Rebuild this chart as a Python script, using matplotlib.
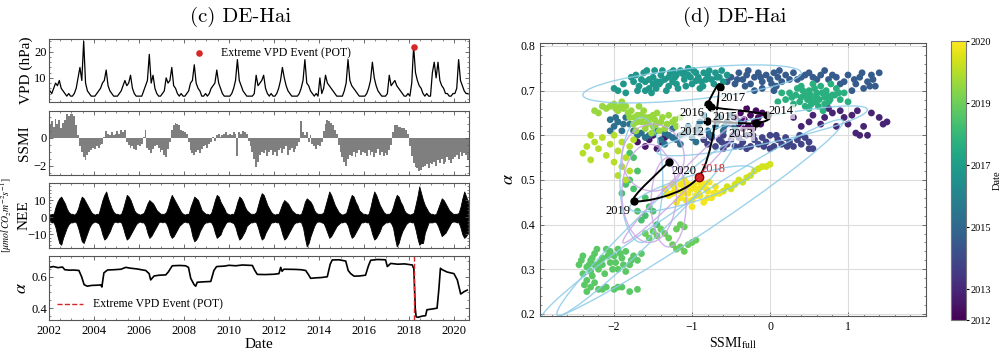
import numpy as np
import matplotlib.pyplot as plt
from matplotlib.patches import Ellipse, PathPatch
from matplotlib.path import Path
from matplotlib.ticker import MultipleLocator
from matplotlib.colors import Normalize

plt.rcParams['font.family'] = ['Liberation Serif', 'DejaVu Serif']
plt.rcParams['mathtext.fontset'] = 'stix'
plt.rcParams['xtick.direction'] = 'in'
plt.rcParams['ytick.direction'] = 'in'
plt.rcParams['xtick.top'] = True
plt.rcParams['ytick.right'] = True
plt.rcParams['axes.edgecolor'] = '#555555'
plt.rcParams['axes.linewidth'] = 0.8
plt.rcParams['xtick.labelsize'] = 9
plt.rcParams['ytick.labelsize'] = 9

# ---------------- data: left panels (monthly, 2002 .. Aug 2020) ----------------
years = list(range(2002, 2021))

vpd = [
    [5, 4, 6, 8, 7, 9, 6, 5, 4, 3, 4, 3],
    [3, 4, 6, 10, 14, 9, 24, 8, 5, 4, 3, 3],
    [3, 4, 5, 6, 8, 9, 13, 7, 5, 4, 3, 3],
    [3, 4, 5, 7, 9, 7, 8, 11, 6, 4, 3, 3],
    [3, 3, 5, 7, 9, 19, 8, 11, 6, 4, 3, 3],
    [4, 5, 10, 8, 9, 14, 7, 6, 4, 3, 4, 3],
    [3, 4, 5, 8, 9, 15, 8, 6, 5, 3, 3, 4],
    [3, 4, 6, 7, 8, 13, 8, 6, 4, 3, 3, 3],
    [3, 4, 6, 9, 17, 9, 7, 5, 4, 3, 3, 3],
    [3, 4, 11, 7, 8, 9, 11, 6, 4, 3, 4, 3],
    [3, 4, 6, 9, 14, 10, 7, 5, 4, 3, 3, 3],
    [3, 4, 6, 9, 17, 8, 7, 5, 4, 3, 4, 3],
    [10, 4, 6, 11, 8, 7, 6, 5, 4, 3, 3, 3],
    [3, 5, 8, 17, 9, 7, 6, 5, 4, 3, 3, 3],
    [3, 4, 6, 9, 16, 10, 7, 5, 4, 3, 3, 3],
    [4, 11, 7, 8, 9, 7, 6, 5, 4, 3, 3, 4],
    [3, 8, 22, 12, 9, 7, 6, 4, 3, 4, 3, 3],
    [12, 16, 10, 16, 9, 7, 6, 4, 4, 3, 3, 4],
    [4, 6, 17, 9, 7, 5, 4, 4],
]

ssmi = [
    [0.9, 1.2, 0.8, 1.4, 1.0, 1.3, 0.7, 1.1, 1.3, 1.7, 1.6, 1.7],
    [1.7, 1.6, 0.9, 0.2, -0.6, -1.0, -1.4, -1.6, -1.2, -1.0, -0.9, -0.7],
    [-0.8, -0.6, -0.7, -0.5, -0.4, 0.1, 0.5, 0.3, 0.2, 0.4, 0.2, 0.3],
    [0.5, 0.3, 0.6, 0.4, 0.6, -0.3, -0.5, -0.7, -0.6, -0.8, -0.9, -0.5],
    [-0.6, -0.4, 0.1, 0.6, -0.7, -0.9, -1.1, -0.8, -0.6, -0.5, -0.7, -1.0],
    [-0.9, -1.2, -1.4, -0.8, -0.3, 0.6, 0.9, 1.1, 1.0, 0.9, 0.6, 0.5],
    [0.4, 0.3, -0.3, -0.9, -1.1, -1.2, -1.0, -0.9, -1.1, -0.8, -0.6, -0.5],
    [-0.7, -0.4, -0.3, 0.1, -0.2, 0.2, 0.3, 0.1, 0.2, 0.3, 0.4, 0.2],
    [0.3, 0.2, 0.4, 0.3, -1.3, 0.4, 0.3, 0.5, 0.4, 0.3, -0.2, -0.6],
    [-1.0, -1.5, -2.1, -1.7, -1.2, -1.0, -1.1, -0.9, -1.3, -1.0, -0.9, -1.2],
    [-1.0, -1.3, -0.9, -0.7, -1.1, -0.8, -0.6, -1.2, -0.9, -0.7, -1.0, -0.8],
    [-0.6, -0.3, 1.2, 0.4, 0.2, 0.4, -0.3, 0.2, -0.4, -0.6, -0.8, -0.5],
    [-0.6, -0.3, 0.5, 1.0, 1.3, 1.2, 1.1, 0.9, 0.6, 0.3, -0.5, -1.0],
    [-1.4, -1.7, -2.0, -1.5, -1.2, -1.3, -1.0, -1.4, -1.1, -0.9, -1.2, -1.0],
    [-1.1, -1.3, -0.9, -1.2, -1.0, -1.4, -1.1, -0.8, -1.2, -1.0, -1.3, -1.1],
    [-1.2, -0.9, -0.5, 0.4, 0.9, 0.9, 0.8, 0.8, 0.7, 0.7, 0.6, 0.3],
    [-0.6, -1.3, -1.8, -2.1, -2.2, -2.4, -2.3, -2.1, -2.0, -1.9, -2.2, -1.8],
    [-1.9, -1.7, -2.0, -1.6, -1.8, -1.5, -1.9, -1.7, -1.4, -1.6, -1.8, -1.5],
    [-1.4, -1.2, -1.5, -1.0, -1.3, -1.1, -1.2, -1.6],
]

nee_hi = [
    [1.5, 2, 2, 6, 9, 11, 12, 10, 8, 5, 3, 2],
    [2, 1.5, 2.5, 5, 9, 12, 11, 9, 7, 5, 3, 2],
    [1.5, 2, 2, 6, 10, 13, 15, 11, 8, 5, 3, 2],
    [2, 1.5, 2, 5, 9, 13, 12, 10, 7, 4, 2.5, 2],
    [1.5, 2, 2.5, 5, 8, 10, 9, 8, 6, 4, 3, 2],
    [2, 2, 3, 6, 10, 13, 11, 9, 7, 5, 3, 2],
    [1.5, 2, 2, 6, 9, 12, 11, 10, 7, 4, 3, 2],
    [2, 1.5, 2.5, 6, 10, 13, 12, 9, 7, 5, 2.5, 2],
    [1.5, 2, 2, 5, 9, 12, 11, 9, 6, 4, 3, 2],
    [2, 2, 3, 7, 11, 14, 13, 10, 7, 5, 3, 2],
    [1.5, 2, 2, 5, 8, 10, 9, 8, 6, 4, 3, 2],
    [2, 1.5, 2, 5, 9, 11, 10, 9, 7, 4, 2.5, 2],
    [2, 2, 3, 7, 11, 15, 13, 10, 7, 5, 3, 2],
    [1.5, 2, 2.5, 6, 10, 13, 12, 9, 7, 4, 3, 2],
    [2, 1.5, 2, 6, 11, 15, 13, 10, 7, 5, 3, 2],
    [2, 2, 3, 6, 10, 13, 12, 9, 7, 4, 2.5, 2],
    [1.5, 2, 2.5, 7, 12, 18, 14, 10, 7, 5, 3, 2],
    [2, 1.5, 2, 5, 8, 11, 10, 8, 6, 4, 3, 2],
    [2, 2, 2.5, 6, 11, 15, 12, 9],
]

nee_lo = [
    [-2.5, -3, -3, -6, -11, -15, -16, -12, -9, -6, -4, -3],
    [-3, -2.5, -3, -6, -10, -14, -15, -12, -9, -6, -4, -3],
    [-2.5, -3, -3.5, -6, -10, -13, -12, -10, -8, -5, -3, -2.5],
    [-3, -2.5, -3, -6, -10, -13, -12, -10, -8, -6, -4, -3],
    [-2.5, -3, -3, -5, -9, -12, -11, -9, -7, -5, -3, -2.5],
    [-3, -2.5, -3.5, -6, -10, -12, -11, -9, -7, -5, -4, -3],
    [-2.5, -3, -3, -6, -11, -14, -13, -11, -8, -6, -4, -3],
    [-3, -2.5, -3, -5, -9, -12, -11, -10, -7, -5, -3, -2.5],
    [-2.5, -3, -3.5, -6, -10, -13, -12, -10, -8, -5, -4, -3],
    [-3, -2.5, -3, -6, -10, -13, -12, -9, -7, -5, -3, -3],
    [-2.5, -3, -3, -6, -10, -13, -12, -10, -8, -6, -4, -3],
    [-3, -2.5, -3, -6, -12, -17, -15, -11, -8, -5, -3, -2.5],
    [-2.5, -3, -3.5, -6, -9, -12, -11, -9, -7, -5, -4, -3],
    [-3, -2.5, -3, -5, -9, -12, -11, -9, -7, -5, -3, -3],
    [-2.5, -3, -3, -6, -10, -13, -12, -10, -8, -5, -4, -3],
    [-3, -2.5, -3.5, -6, -12, -17, -15, -11, -8, -6, -4, -3],
    [-2.5, -3, -3, -7, -12, -16, -15, -15, -9, -6, -3, -3],
    [-3, -2.5, -3, -5, -8, -11, -10, -9, -7, -5, -3, -2.5],
    [-2.5, -3, -3, -6, -10, -12, -11, -9],
]

alpha_t = [2002.0, 2002.2, 2002.4, 2002.6, 2002.7, 2002.9, 2003.1, 2003.33, 2003.45, 2003.56,
           2003.7, 2003.9, 2004.1, 2004.3, 2004.35, 2004.44, 2004.6, 2004.9, 2005.2, 2005.41,
           2005.6, 2005.9, 2006.1, 2006.3, 2006.45, 2006.52, 2006.67, 2006.9, 2007.19, 2007.3,
           2007.48, 2007.8, 2008.07, 2008.2, 2008.3, 2008.45, 2008.52, 2008.59, 2008.9, 2009.19,
           2009.33, 2009.45, 2009.8, 2010.0, 2010.3, 2010.6, 2011.04, 2011.15, 2011.26, 2011.6,
           2012.0, 2012.22, 2012.3, 2012.36, 2012.44, 2012.9, 2013.2, 2013.41, 2013.55, 2013.63,
           2013.85, 2014.1, 2014.37, 2014.5, 2014.59, 2014.9, 2015.19, 2015.3, 2015.41, 2015.56,
           2015.8, 2016.07, 2016.2, 2016.3, 2016.6, 2016.96, 2017.04, 2017.19, 2017.5, 2017.8,
           2018.15, 2018.22, 2018.28, 2018.32, 2018.41, 2018.6, 2018.74, 2018.8, 2019.04, 2019.25,
           2019.33, 2019.4, 2019.48, 2019.7, 2020.0, 2020.15, 2020.3, 2020.45, 2020.59]
alpha_v = [0.66, 0.665, 0.658, 0.662, 0.645, 0.642, 0.643, 0.64, 0.6, 0.55,
           0.54, 0.545, 0.546, 0.548, 0.535, 0.625, 0.643, 0.645, 0.648, 0.66,
           0.655, 0.65, 0.645, 0.64, 0.62, 0.58, 0.605, 0.61, 0.612, 0.63,
           0.67, 0.672, 0.67, 0.66, 0.59, 0.55, 0.54, 0.565, 0.568, 0.57,
           0.64, 0.665, 0.668, 0.673, 0.67, 0.675, 0.672, 0.64, 0.615, 0.614,
           0.616, 0.62, 0.66, 0.635, 0.648, 0.647, 0.645, 0.64, 0.61, 0.59,
           0.593, 0.595, 0.6, 0.68, 0.707, 0.708, 0.7, 0.64, 0.62, 0.604,
           0.605, 0.61, 0.67, 0.705, 0.71, 0.708, 0.665, 0.685, 0.68, 0.682,
           0.675, 0.65, 0.4, 0.345, 0.342, 0.35, 0.352, 0.39, 0.395, 0.4,
           0.52, 0.654, 0.645, 0.63, 0.62, 0.58, 0.49, 0.505, 0.515]

event_year = 2018.21
event_vpd = 22

# ---------------- data: right panel ----------------
# scatter clusters: x list, y list, date
c_teal_x = [-2.0, -1.95, -1.85, -1.75, -1.72, -1.68, -1.62, -1.6, -1.55, -1.5, -1.48, -1.42, -1.4, -1.35, -1.3,
            -1.28, -1.22, -1.2, -1.15, -1.1, -1.05, -1.0, -0.98, -0.92, -0.88, -0.85, -0.8, -0.75, -0.7, -0.65,
            -0.6, -0.55, -1.55, -1.45, -1.25, -1.12, -0.95, -0.78, -1.65, -1.38, -1.05, -1.18, -0.9, -1.7, -1.52,
            -1.88, -1.78, -1.58, -1.46, -1.33, -1.24, -1.08, -1.02, -0.86, -0.72, -0.68, -0.62, -1.6, -1.4,
            -1.2, -0.95, -0.82, -1.3, -1.1, -1.5]
c_teal_y = [0.705, 0.70, 0.695, 0.72, 0.735, 0.71, 0.74, 0.72, 0.705, 0.73, 0.745, 0.715, 0.735, 0.725, 0.71,
            0.74, 0.73, 0.715, 0.745, 0.725, 0.735, 0.715, 0.745, 0.73, 0.72, 0.74, 0.735, 0.725, 0.74, 0.73,
            0.72, 0.735, 0.725, 0.72, 0.72, 0.738, 0.722, 0.745, 0.725, 0.745, 0.75, 0.705, 0.705, 0.70, 0.695,
            0.715, 0.73, 0.745, 0.705, 0.70, 0.745, 0.71, 0.73, 0.71, 0.715, 0.73, 0.745, 0.70, 0.72,
            0.735, 0.74, 0.725, 0.73, 0.74, 0.715]
c_blue_x = [-0.5, -0.45, -0.4, -0.35, -0.3, -0.25, -0.2, -0.15, -0.1, -0.05, 0.0, 0.05, 0.1, 0.15, 0.2, 0.3,
            0.35, 0.45, 0.55, 0.65, 0.75, 0.85, 0.95, 1.0, 1.1, 1.15, 1.2, 1.25, 1.3, 1.35, 1.4, 1.05, 0.9,
            -0.2, -0.1, 0.05, -0.42, -0.28, -0.12, 0.02, 0.12, 0.25, 0.4, 0.5, 0.6, 0.7, 0.8, 1.08, 1.18,
            1.28, 1.32, -0.55, -0.32, 0.08]
c_blue_y = [0.73, 0.715, 0.74, 0.725, 0.735, 0.715, 0.73, 0.74, 0.72, 0.735, 0.725, 0.74, 0.73, 0.72, 0.735, 0.74,
            0.725, 0.735, 0.73, 0.735, 0.725, 0.73, 0.72, 0.735, 0.715, 0.73, 0.705, 0.72, 0.735, 0.71, 0.74, 0.70,
            0.715, 0.70, 0.705, 0.70, 0.725, 0.745, 0.73, 0.715, 0.745, 0.725, 0.73, 0.74, 0.725, 0.745, 0.735,
            0.725, 0.74, 0.71, 0.725, 0.72, 0.71, 0.71]
c_green_x = [0.2, 0.25, 0.3, 0.35, 0.4, 0.45, 0.5, 0.55, 0.6, 0.62, 0.65, 0.7, 0.72, 0.75, 0.8, 0.85, 0.9,
             0.95, 1.0, 0.55, 0.45, 0.68, 0.58, 0.4, 0.15, 0.1, 0.78, 0.5, 0.28, 0.33, 0.38, 0.48, 0.52,
             0.57, 0.63, 0.67, 0.73, 0.77, 0.83, 0.88, 0.6, 0.7, 0.53, 0.42]
c_green_y = [0.68, 0.695, 0.67, 0.705, 0.685, 0.665, 0.70, 0.68, 0.695, 0.665, 0.71, 0.685, 0.70, 0.675, 0.69,
             0.705, 0.68, 0.695, 0.675, 0.715, 0.69, 0.655, 0.675, 0.71, 0.695, 0.675, 0.715, 0.66, 0.685,
             0.69, 0.675, 0.68, 0.69, 0.705, 0.68, 0.695, 0.69, 0.68, 0.69, 0.695, 0.685, 0.67, 0.67, 0.70]
c_purple_r_x = [0.3, 0.4, 0.5, 0.55, 0.65, 0.7, 0.8, 0.85, 0.9, 0.95, 1.0, 1.05, 1.1, 1.15, 1.2, 1.25, 1.3,
                1.4, 1.5, 1.45, 0.75, 1.12]
c_purple_r_y = [0.64, 0.62, 0.63, 0.645, 0.625, 0.64, 0.65, 0.62, 0.655, 0.64, 0.625, 0.645, 0.605, 0.60, 0.62,
                0.60, 0.65, 0.64, 0.63, 0.625, 0.66, 0.655]
c_dblue_x = [-0.85, -0.8, -0.75, -0.7, -0.65, -0.6, -0.55, -0.5, -0.45, -0.4, -0.35, -0.3, -0.25, -0.2, -0.15,
             -0.1, -0.05, 0.0, 0.05, 0.1, 0.15, 0.2, 0.25, 0.3, 0.35, 0.4, 0.45, 0.5, 0.55, -0.6, -0.3, 0.0,
             -0.9, -0.45, -0.78, -0.62, -0.48, -0.38, -0.22, -0.08, 0.08, 0.22, 0.38, 0.5]
c_dblue_y = [0.59, 0.58, 0.595, 0.575, 0.59, 0.60, 0.58, 0.59, 0.575, 0.595, 0.585, 0.60, 0.575, 0.59, 0.58,
             0.595, 0.585, 0.60, 0.575, 0.59, 0.58, 0.595, 0.585, 0.575, 0.59, 0.58, 0.595, 0.585, 0.57, 0.57,
             0.57, 0.57, 0.605, 0.605, 0.60, 0.585, 0.60, 0.575, 0.60, 0.575, 0.60, 0.575, 0.60, 0.57]
c_purple_x = [-0.45, -0.4, -0.38, -0.33, -0.3, -0.28, -0.25, -0.2, -0.18, -0.15, -0.12, -0.1, -0.35, -0.22]
c_purple_y = [0.64, 0.625, 0.65, 0.635, 0.66, 0.62, 0.645, 0.63, 0.655, 0.64, 0.625, 0.65, 0.615, 0.615]
c_steel_x = [-2.05, -2.0, -1.95, -1.9, -1.85, -1.8, -1.7, -1.6, -1.5, -1.4, -1.3, -1.2, -1.1, -1.0, -0.95,
             -0.9, -0.85, -0.7, -0.65, -0.6, -0.55, -0.5, -0.45, -1.25, -1.05, -0.75, -1.35, -1.15, -0.95, -2.05,
             -1.98, -1.88, -1.75, -1.65, -1.55, -1.45, -1.35, -1.25, -1.15, -1.05, -0.92, -0.8, -0.68, -0.58,
             -0.5, -0.4]
c_steel_y = [0.635, 0.62, 0.63, 0.61, 0.64, 0.625, 0.60, 0.595, 0.605, 0.59, 0.60, 0.59, 0.605, 0.595, 0.61,
             0.63, 0.645, 0.62, 0.64, 0.61, 0.63, 0.645, 0.615, 0.615, 0.62, 0.60, 0.58, 0.58, 0.585, 0.61,
             0.64, 0.625, 0.61, 0.605, 0.60, 0.61, 0.605, 0.595, 0.60, 0.61, 0.62, 0.61, 0.63, 0.62,
             0.625, 0.63]
c_lime_x = [-2.1, -2.0, -1.95, -1.9, -1.85, -1.8, -1.75, -1.7, -1.65, -1.6, -1.55, -1.5, -1.45, -1.4, -1.35,
            -1.3, -1.25, -1.2, -1.15, -1.72, -1.62, -1.52, -1.42, -1.68, -1.58, -1.48, -1.78, -2.25, -2.2, -2.15,
            -2.05, -1.98, -1.92, -1.82, -1.74, -1.66, -1.56, -1.46, -1.38, -1.32, -1.22, -1.6, -1.5, -1.7, -1.88]
c_lime_y = [0.66, 0.67, 0.655, 0.675, 0.665, 0.64, 0.625, 0.645, 0.63, 0.615, 0.64, 0.62, 0.65, 0.63, 0.615,
            0.645, 0.63, 0.62, 0.64, 0.61, 0.655, 0.605, 0.61, 0.665, 0.625, 0.635, 0.655, 0.655, 0.65, 0.665,
            0.665, 0.66, 0.665, 0.65, 0.64, 0.645, 0.63, 0.625, 0.64, 0.625, 0.635, 0.64, 0.645, 0.63, 0.66]
c_ygl_x = [-2.4, -2.35, -2.3, -2.25, -2.2, -2.15, -2.1, -2.05, -2.0, -1.95, -1.9, -1.85, -1.8, -2.0, -1.9,
           -1.95, -1.85, -1.8, -2.3, -1.75]
c_ygl_y = [0.56, 0.575, 0.545, 0.585, 0.57, 0.595, 0.555, 0.58, 0.60, 0.565, 0.585, 0.55, 0.575, 0.54, 0.53,
           0.51, 0.50, 0.52, 0.60, 0.59]
c_dpur_x = [-1.7, -1.6, -1.55, -1.45, -1.4, -1.35, -1.5]
c_dpur_y = [0.585, 0.575, 0.59, 0.57, 0.585, 0.595, 0.60]
c_yellow_x = [-1.35, -1.3, -1.25, -1.2, -1.15, -1.1, -1.05, -1.0, -0.95, -0.9, -0.85, -0.8, -0.75, -0.7,
              -0.65, -1.2, -1.0, -0.85, -1.1, -0.9, -1.25, -0.95, -0.78, -1.05, -1.32, -1.22, -1.12, -1.02,
              -0.92, -0.82, -0.72, -1.15, -0.98, -0.88, -1.08, -0.8]
c_yellow_y = [0.48, 0.465, 0.49, 0.475, 0.46, 0.485, 0.47, 0.455, 0.48, 0.465, 0.49, 0.475, 0.46, 0.485,
              0.47, 0.45, 0.44, 0.45, 0.50, 0.495, 0.47, 0.465, 0.495, 0.49, 0.47, 0.48, 0.47, 0.48,
              0.475, 0.48, 0.47, 0.49, 0.49, 0.485, 0.455, 0.46]
c_yg_x = [-0.7, -0.6, -0.5, -0.45, -0.4, -0.3, -0.25, -0.2, -0.15, -0.1, -0.35, -0.55, -0.05, 0.0]
c_yg_y = [0.47, 0.475, 0.48, 0.49, 0.50, 0.505, 0.51, 0.52, 0.525, 0.53, 0.495, 0.485, 0.53, 0.535]
c_bot_x = [-2.45, -2.4, -2.35, -2.3, -2.25, -2.2, -2.15, -2.1, -2.05, -2.0, -1.95, -1.9, -1.85, -1.8, -1.75,
           -1.7, -1.65, -2.4, -2.35, -2.3, -2.25, -2.2, -2.1, -2.0, -1.9, -1.8, -1.7, -2.3, -2.12, -2.38,
           -1.85, -2.05, -2.25, -1.95, -2.42, -2.32, -2.28, -2.18, -2.08, -1.98, -1.88, -1.78, -2.22, -2.15,
           -2.02, -1.92, -2.35, -2.15, -1.95, -2.28]
c_bot_y = [0.31, 0.33, 0.305, 0.32, 0.335, 0.30, 0.325, 0.345, 0.315, 0.33, 0.30, 0.325, 0.34, 0.31, 0.33,
           0.32, 0.335, 0.29, 0.275, 0.26, 0.27, 0.255, 0.26, 0.255, 0.26, 0.25, 0.255, 0.295, 0.29, 0.265,
           0.295, 0.34, 0.31, 0.345, 0.32, 0.31, 0.325, 0.315, 0.33, 0.315, 0.31, 0.32, 0.345, 0.31,
           0.30, 0.335, 0.25, 0.255, 0.26, 0.285]
c_mid_x = [-1.6, -1.55, -1.5, -1.45, -1.4, -1.35, -1.3, -1.25, -1.2, -1.15, -1.1, -1.05, -1.0, -0.95, -1.2,
           -1.15, -1.1]
c_mid_y = [0.38, 0.37, 0.385, 0.375, 0.39, 0.38, 0.37, 0.355, 0.345, 0.35, 0.34, 0.355, 0.36, 0.365, 0.39,
           0.40, 0.395]
c_up_x = [-1.9, -1.85, -1.8, -1.75, -1.7, -1.65, -1.6, -1.55, -1.5, -1.6, -1.45, -1.7, -1.75, -1.8]
c_up_y = [0.47, 0.49, 0.50, 0.48, 0.43, 0.41, 0.42, 0.44, 0.43, 0.46, 0.40, 0.52, 0.55, 0.56]

clusters = [
    (c_dpur_x, c_dpur_y, 2012.5),
    (c_purple_x, c_purple_y, 2012.3),
    (c_purple_r_x, c_purple_r_y, 2012.9),
    (c_dblue_x, c_dblue_y, 2013.8),
    (c_blue_x, c_blue_y, 2014.6),
    (c_steel_x, c_steel_y, 2015.4),
    (c_teal_x, c_teal_y, 2016.8),
    (c_green_x, c_green_y, 2017.7),
    (c_up_x, c_up_y, 2018.4),
    (c_bot_x, c_bot_y, 2018.7),
    (c_mid_x, c_mid_y, 2018.95),
    (c_lime_x, c_lime_y, 2019.6),
    (c_ygl_x, c_ygl_y, 2020.0),
    (c_yg_x, c_yg_y, 2020.4),
    (c_yellow_x, c_yellow_y, 2020.85),
]

# yearly mean trajectory
traj_year = [2012, 2013, 2014, 2015, 2016, 2017, 2018, 2019, 2020]
traj_x = [-0.806, -0.18, -0.034, -0.755, -0.80, -0.647, -0.913, -1.75, -1.295]
traj_y = [0.632, 0.627, 0.646, 0.663, 0.670, 0.7075, 0.507, 0.453, 0.541]
lab_x = [-1.0, -0.377, 0.138, -0.583, -1.0, -0.476, -0.73, -1.95, -1.11]
lab_y = [0.608, 0.603, 0.654, 0.640, 0.649, 0.683, 0.525, 0.43, 0.519]

# ellipse outlines: center x, center y, width, height, angle, colour
ell_x = [-1.0, -1.6, -1.0, -0.1, -1.65, -1.0, -1.55, -1.3, -1.1, -1.5]
ell_y = [0.41, 0.39, 0.715, 0.61, 0.50, 0.48, 0.47, 0.45, 0.50, 0.55]
ell_w = [3.9, 2.3, 2.8, 2.7, 0.55, 1.6, 0.7, 0.45, 1.6, 0.8]
ell_h = [0.09, 0.08, 0.07, 0.06, 0.28, 0.06, 0.22, 0.2, 0.05, 0.15]
ell_a = [6.5, 9.5, 1.0, 2.0, 0.0, 3.0, 0.0, 0.0, 10.0, 0.0]
ell_c = ['#8ccbe8', '#8ccbe8', '#8ccbe8', '#8ccbe8', '#8ccbe8', '#8ccbe8',
         '#c9a6e6', '#c9a6e6', '#c9a6e6', '#c9a6e6']

# ---------------- figure ----------------
fig = plt.figure(figsize=(10, 3.51), dpi=100)

ax1 = fig.add_axes([0.049, 0.709, 0.42, 0.18])
ax2 = fig.add_axes([0.049, 0.501, 0.42, 0.183])
ax3 = fig.add_axes([0.049, 0.293, 0.42, 0.186])
ax4 = fig.add_axes([0.049, 0.088, 0.42, 0.183])

def month_times(i, n):
    return [years[i] + (m + 0.5) / 12 for m in range(n)]

t_all, vpd_all, ssmi_all, hi_all, lo_all = [], [], [], [], []
for i in range(len(years)):
    t_all += month_times(i, len(vpd[i]))
    vpd_all += vpd[i]
    ssmi_all += ssmi[i]
    hi_all += nee_hi[i]
    lo_all += nee_lo[i]

ax1.plot(t_all, vpd_all, color='black', lw=0.9)
ax1.scatter([event_year], [event_vpd], color='#d62728', s=14, zorder=3,
            label='Extreme VPD Event (POT)')
ax1.set_ylim(0.7, 24.9)
ax1.set_yticks([10, 20])
ax1.set_ylabel('VPD (hPa)', fontsize=11)
ax1.legend(loc='center left', bbox_to_anchor=(0.31, 0.77), frameon=False,
           fontsize=8.5, handletextpad=0.8, borderpad=0.2)

ax2.bar(t_all, ssmi_all, width=1 / 12, color='#7f7f7f', edgecolor='none')
ax2.set_ylim(-2.68, 1.95)
ax2.set_yticks([-2, 0])
ax2.set_ylabel('SSMI', fontsize=11)

ax3.fill_between(t_all, lo_all, hi_all, color='black', lw=0.6)
ax3.set_ylim(-18, 20)
ax3.set_yticks([-10, 0, 10])
ax3.set_ylabel('NEE', fontsize=11)
ax3.text(-0.102, 0.5, r'$[\mu mol\,CO_2 m^{-2} s^{-1}]$', transform=ax3.transAxes,
         rotation=90, ha='center', va='center', fontsize=7)

ax4.plot(alpha_t, alpha_v, color='black', lw=1.2)
ax4.axvline(event_year, color='#d62728', ls='--', lw=1.0, label='Extreme VPD Event (POT)')
ax4.set_ylim(0.324, 0.733)
ax4.set_yticks([0.4, 0.6])
ax4.set_ylabel(r'$\alpha$', fontsize=13)
ax4.set_xlabel('Date', fontsize=11, labelpad=1)
ax4.legend(loc='center left', bbox_to_anchor=(0.0, 0.24), frameon=False,
           fontsize=8.5, handlelength=2.2, borderpad=0.2)

for ax in (ax1, ax2, ax3, ax4):
    ax.set_xlim(2002, 2020.67)
    ax.xaxis.set_major_locator(MultipleLocator(2))
    ax.minorticks_on()
    ax.xaxis.set_minor_locator(MultipleLocator(0.5))
    ax.tick_params(which='major', length=3, width=0.6, color='#555555')
    ax.tick_params(which='minor', length=1.5, width=0.5, color='#555555')
    ax.tick_params(axis='y', pad=1.5)
for ax in (ax1, ax2, ax3):
    ax.tick_params(labelbottom=False)
ax1.yaxis.set_label_coords(-0.038, 0.5)
ax2.yaxis.set_label_coords(-0.042, 0.5)
ax3.yaxis.set_label_coords(-0.044, 0.5)
ax4.yaxis.set_label_coords(-0.045, 0.5)

fig.text(0.241, 0.952, '(c) DE-Hai', ha='center', va='center', fontsize=15, family='cmr10')
fig.text(0.735, 0.952, '(d) DE-Hai', ha='center', va='center', fontsize=15, family='cmr10')

# right panel
axs = fig.add_axes([0.540, 0.1006, 0.386, 0.776])
axs.grid(True, color='#dddddd', lw=0.8, zorder=0)
axs.set_axisbelow(True)
norm = Normalize(2012, 2021)
sc = None
for cx, cy, d in clusters:
    sc = axs.scatter(cx, cy, c=[d] * len(cx), cmap='viridis', norm=norm, s=24,
                     linewidths=0, zorder=2)

for x, y, w, h, a, c in zip(ell_x, ell_y, ell_w, ell_h, ell_a, ell_c):
    axs.add_patch(Ellipse((x, y), w, h, angle=a, fill=False, edgecolor=c, lw=1.0,
                          alpha=0.85, zorder=3))

# smooth path through the yearly means
pts = list(zip(traj_x, traj_y))
verts = [pts[0]]
codes = [Path.MOVETO]
for i in range(len(pts) - 1):
    p0 = pts[max(i - 1, 0)]
    p1 = pts[i]
    p2 = pts[i + 1]
    p3 = pts[min(i + 2, len(pts) - 1)]
    c1 = (p1[0] + (p2[0] - p0[0]) / 6, p1[1] + (p2[1] - p0[1]) / 6)
    c2 = (p2[0] - (p3[0] - p1[0]) / 6, p2[1] - (p3[1] - p1[1]) / 6)
    verts += [c1, c2, p2]
    codes += [Path.CURVE4, Path.CURVE4, Path.CURVE4]
axs.add_patch(PathPatch(Path(verts, codes), fill=False, edgecolor='black', lw=1.4, zorder=4))
axs.plot(traj_x, traj_y, 'o', color='black', ms=5, zorder=5)
i18 = traj_year.index(2018)
axs.plot([traj_x[i18]], [traj_y[i18]], 'o', color='#d62728', mec='#8b0000', ms=6, zorder=6)

for yr, lx, ly in zip(traj_year, lab_x, lab_y):
    col = '#d62728' if yr == 2018 else 'black'
    bb = None if yr in (2018, 2019, 2020) else dict(facecolor='white', alpha=0.65,
                                                    edgecolor='none', pad=1.0)
    axs.text(lx, ly, str(yr), color=col, fontsize=9, ha='center', va='center',
             bbox=bb, zorder=7)

axs.set_xlim(-2.95, 2.0)
axs.set_ylim(0.196, 0.806)
axs.set_xticks([-2, -1, 0, 1])
axs.set_yticks([0.2, 0.3, 0.4, 0.5, 0.6, 0.7, 0.8])
axs.xaxis.set_minor_locator(MultipleLocator(0.2))
axs.yaxis.set_minor_locator(MultipleLocator(0.02))
axs.tick_params(which='major', length=3, width=0.6, color='#555555', labelsize=8.5)
axs.tick_params(which='minor', length=1.5, width=0.5, color='#555555')
axs.set_xlabel(r'SSMI$_{\rm full}$', fontsize=10, labelpad=2)
axs.set_ylabel(r'$\alpha$', fontsize=13, labelpad=2)

cax = fig.add_axes([0.951, 0.088, 0.015, 0.795])
cb = fig.colorbar(sc, cax=cax)
cb.set_ticks([2012, 2013, 2015, 2017, 2019, 2021])
cb.set_ticklabels(['2012', '2013', '2015', '2017', '2019', '2020'])
cb.ax.minorticks_off()
cb.ax.tick_params(labelsize=7.5, length=2, direction='out', pad=1.5)
cb.outline.set_edgecolor('#777777')
cb.set_label('Date', fontsize=7.5, labelpad=1)

fig.savefig('out.png', dpi=100)
